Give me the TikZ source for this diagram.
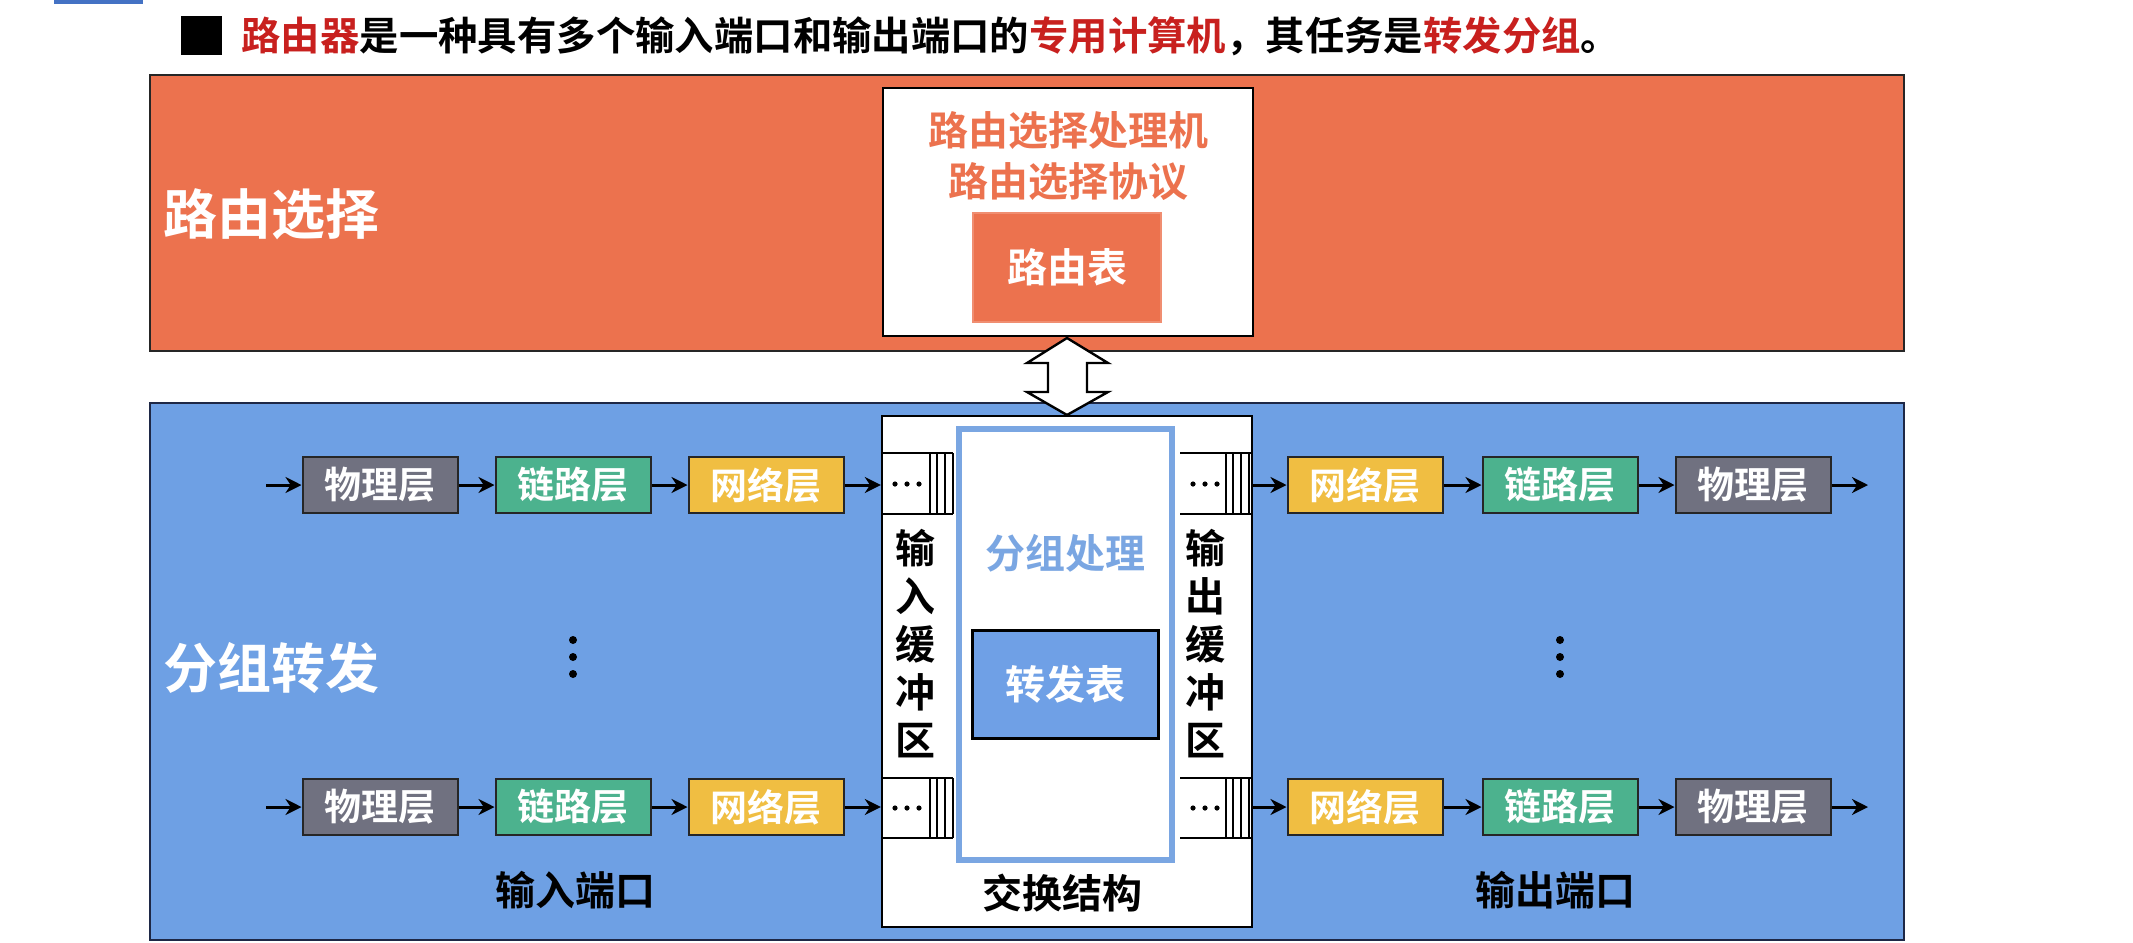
\documentclass[tikz,border=0pt]{standalone}
\usepackage{fontspec}
\setmainfont{Noto Sans CJK SC}[BoldFont={Noto Sans CJK SC Bold}]
\usetikzlibrary{arrows.meta}
\definecolor{orangeR}{HTML}{EC724E}
\definecolor{blueF}{HTML}{6EA0E4}
\definecolor{grayL}{HTML}{707180}
\definecolor{greenL}{HTML}{4CB28E}
\definecolor{yellowL}{HTML}{F0BE42}
\definecolor{lightB}{HTML}{7AA6E2}
\definecolor{tblB}{HTML}{6FA0E6}
\definecolor{redT}{HTML}{C8201E}
\definecolor{navyB}{HTML}{1E2846}
\definecolor{topbar}{HTML}{4472C4}
\tikzset{
  layer/.style={draw=black!85, line width=1pt, minimum width=77.5pt, minimum height=28pt, inner sep=0pt, text=white, font=\fontsize{18.5pt}{22pt}\selectfont\bfseries},
  arr/.style={line width=1.5pt, -{Stealth[length=8pt,width=8pt]}},
  lbl/.style={inner sep=0pt, font=\fontsize{20pt}{24pt}\selectfont\bfseries},
  biglbl/.style={inner sep=0pt, text=white, font=\fontsize{27pt}{30pt}\selectfont\bfseries},
  buf/.style={line width=1pt},
  dot/.style={fill=black, draw=none}
}
\begin{document}
\begin{tikzpicture}[x=0.5pt,y=-0.5pt]
\useasboundingbox (0,0) rectangle (2133,943);
\fill[white] (0,0) rectangle (2133,943);
% top-left bar
\fill[topbar] (54,0) rectangle (143,4);
% title
\fill[black] (181,16) rectangle (222,55);
\node[lbl, anchor=west, font=\fontsize{19.7pt}{24pt}\selectfont\bfseries] (title) at (241,36)
  {\textcolor{redT}{路由器}是一种具有多个输入端口和输出端口的\textcolor{redT}{专用计算机}，其任务是\textcolor{redT}{转发分组}。};
% routing plane
\node[draw=black!85, line width=1pt, fill=orangeR, minimum width=877pt, minimum height=138pt, inner sep=0pt] (rp) at (1027,213) {};
\node[biglbl, anchor=west] (rplbl) at (163,214) {路由选择};
\node[draw=black, line width=1.2pt, fill=white, minimum width=185pt, minimum height=124pt, inner sep=0pt] (rbox) at (1068,212) {};
\node[lbl, text=orangeR] (rl1) at (1068,130) {路由选择处理机};
\node[lbl, text=orangeR] (rl2) at (1068,182) {路由选择协议};
\node[draw=orangeR!80!white, line width=0.6pt, fill=orangeR, minimum width=94pt, minimum height=54.5pt, inner sep=0pt, lbl, text=white] (rtab) at (1067,267.5) {路由表};
% forwarding plane
\node[draw=navyB, line width=1pt, fill=blueF, minimum width=877pt, minimum height=268.5pt, inner sep=0pt] (fp) at (1027,671.5) {};
\node[biglbl, anchor=west] (fplbl) at (163,668) {分组转发};
% switch fabric
\node[draw=black, line width=1.2pt, fill=white, minimum width=185pt, minimum height=255.5pt, inner sep=0pt] (sw) at (1067,671.5) {};
\node[draw=lightB, line width=3pt, minimum width=106.5pt, minimum height=215.5pt, inner sep=0pt] (proc) at (1065.5,644.5) {};
\node[lbl, text=lightB] (proclbl) at (1065,553) {分组处理};
\node[draw=black, line width=1.5pt, fill=tblB, minimum width=93pt, minimum height=54pt, inner sep=0pt, lbl, text=white] (ftab) at (1065,684) {转发表};
\node[lbl, text=black] (swlbl) at (1062,893) {交换结构};
\node[lbl, align=center] (inbuf) at (915,644) {输\\入\\缓\\冲\\区};
\node[lbl, align=center] (outbuf) at (1205,644) {输\\出\\缓\\冲\\区};
% buffers
\foreach \yt/\yb/\yd in {453/514/484, 778/838/808} {
  \draw[buf] (882,\yt) -- (953,\yt) (882,\yb) -- (953,\yb);
  \foreach \xv in {930,937,945,953} \draw[buf] (\xv,\yt) -- (\xv,\yb);
  \foreach \xd in {895,907,919} \fill[dot] (\xd,\yd) circle (2.6);
  \draw[buf] (1180,\yt) -- (1252,\yt) (1180,\yb) -- (1252,\yb);
  \foreach \xv in {1226,1233,1241,1249} \draw[buf] (\xv,\yt) -- (\xv,\yb);
  \foreach \xd in {1193,1205,1217} \fill[dot] (\xd,\yd) circle (2.6);
}
% double arrow
\draw[line width=1.2pt, fill=white, line join=miter]
  (1067,338) -- (1108,363) -- (1087,363) -- (1087,392) -- (1108,392) -- (1067,415)
  -- (1027,392) -- (1048,392) -- (1048,363) -- (1027,363) -- cycle;
% layer rows
\foreach \r/\yy in {1/485, 2/807} {
  \node[layer, fill=grayL] (phyL\r) at (380,\yy) {物理层};
  \node[layer, fill=greenL] (lnkL\r) at (573,\yy) {链路层};
  \node[layer, fill=yellowL] (netL\r) at (766,\yy) {网络层};
  \node[layer, fill=yellowL] (netR\r) at (1365,\yy) {网络层};
  \node[layer, fill=greenL] (lnkR\r) at (1560,\yy) {链路层};
  \node[layer, fill=grayL] (phyR\r) at (1753,\yy) {物理层};
  \coordinate (inS\r) at (266,\yy);
  \coordinate (outE\r) at (1868,\yy);
  \draw[arr] (inS\r) -- (phyL\r);
  \draw[arr] (phyL\r) -- (lnkL\r);
  \draw[arr] (lnkL\r) -- (netL\r);
  \draw[arr] (netL\r) -- (netL\r -| sw.west);
  \draw[arr] (netR\r -| sw.east) -- (netR\r);
  \draw[arr] (netR\r) -- (lnkR\r);
  \draw[arr] (lnkR\r) -- (phyR\r);
  \draw[arr] (phyR\r) -- (outE\r);
}
% vertical ellipses
\foreach \xe in {573,1560} \foreach \ye in {640,657,674} \fill[dot] (\xe,\ye) circle (4);
% port labels
\node[lbl] (inport) at (575,890) {输入端口};
\node[lbl] (outport) at (1555,890) {输出端口};
\end{tikzpicture}
\end{document}
